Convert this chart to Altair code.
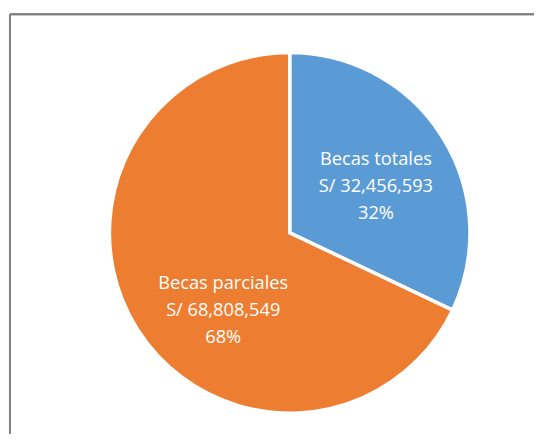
import altair as alt
import pandas as pd

categories = ["Becas totales", "Becas parciales"]
amounts = [32456593, 68808549]
amount_labels = ["S/ 32,456,593", "S/ 68,808,549"]
pct_labels = ["32%", "68%"]
colors = ["#5B9BD5", "#ED7D31"]

df = pd.DataFrame({
    "cat": categories,
    "amount": amounts,
    "order": [0, 1],
    "label": [f"{c}\n{a}\n{p}" for c, a, p in zip(categories, amount_labels, pct_labels)],
})

CX, CY = 286, 225

pie = alt.Chart(df).mark_arc(radius=183, stroke="white", strokeWidth=3.5).encode(
    theta=alt.Theta("amount:Q", stack=True),
    order=alt.Order("order:Q"),
    color=alt.Color("cat:N", scale=alt.Scale(domain=categories, range=colors), legend=None),
    x=alt.value(CX), y=alt.value(CY),
)

txt_base = alt.Chart(df).transform_window(
    cum="sum(amount)", sort=[alt.SortField("order")]
).transform_calculate(
    mid="datum.cum - datum.amount / 2"
)

txt_common = dict(radius=100, lineBreak="\n", lineHeight=27, fontSize=18.5,
                  font="Open Sans", color="white", align="center", baseline="middle")

txt1 = txt_base.transform_filter(alt.datum.order == 0).mark_text(
    dx=3, dy=-21, **txt_common
).encode(
    theta=alt.Theta("mid:Q", stack=None), text="label:N",
    x=alt.value(CX), y=alt.value(CY),
)

txt2 = txt_base.transform_filter(alt.datum.order == 1).mark_text(
    dx=17, dy=-2, **txt_common
).encode(
    theta=alt.Theta("mid:Q", stack=None), text="label:N",
    x=alt.value(CX), y=alt.value(CY),
)

frame_top = alt.Chart(df).mark_rule(color="#808080", strokeWidth=2).encode(
    x=alt.value(2), x2=alt.value(534), y=alt.value(3)
)
frame_left = alt.Chart(df).mark_rule(color="#808080", strokeWidth=2).encode(
    x=alt.value(2), y=alt.value(3), y2=alt.value(429)
)

chart = alt.layer(frame_top, frame_left, pie, txt1, txt2).properties(
    width=534, height=429, padding=0, autosize="none"
).configure_view(stroke=None)

chart.save("out.html", embed_options={"renderer": "svg", "actions": False})
